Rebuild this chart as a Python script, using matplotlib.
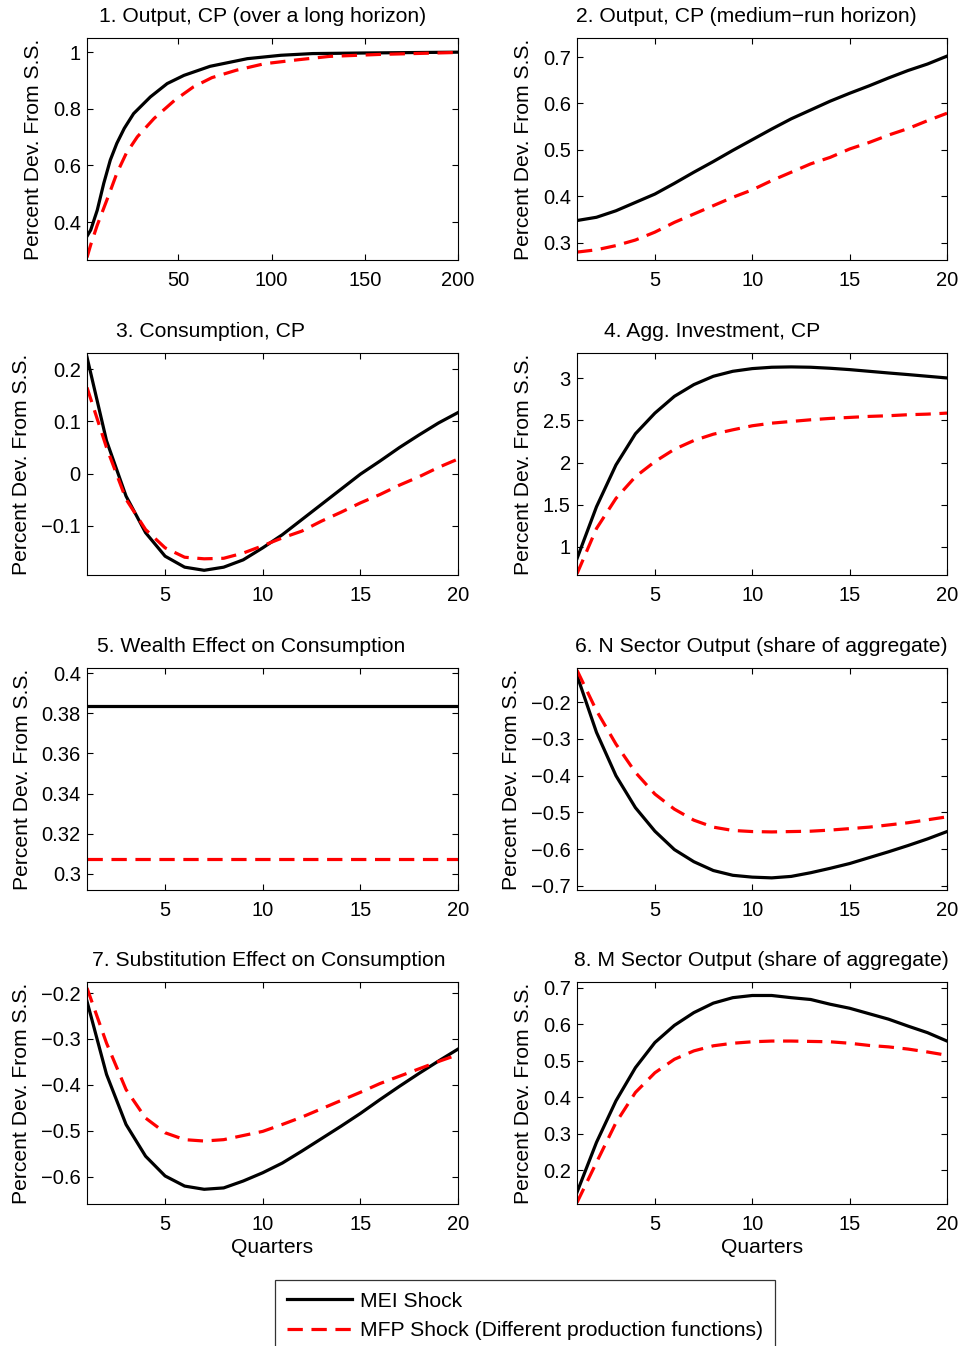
import matplotlib
matplotlib.use("Agg")
import matplotlib.pyplot as plt
from matplotlib.ticker import FuncFormatter

plt.rcParams['font.family'] = ['Liberation Sans', 'DejaVu Sans']
plt.rcParams['axes.unicode_minus'] = True

# ---------------- data ----------------
q = list(range(1, 21))

# Panel 1 (long horizon)
p1_x_mei = [1, 3, 6.5, 10, 13.5, 17, 21, 26, 35, 44, 53, 67, 87, 105, 122, 149, 200]
p1_mei = [0.350, 0.372, 0.442, 0.537, 0.619, 0.678, 0.731, 0.783, 0.842, 0.889,
          0.918, 0.950, 0.977, 0.989, 0.995, 0.997, 1.0]
p1_x_mfp = [1, 3, 6.5, 13, 17, 22, 28, 37, 48, 58, 68, 81, 96, 114, 131, 158, 200]
p1_mfp = [0.275, 0.320, 0.389, 0.501, 0.572, 0.642, 0.701, 0.766, 0.830, 0.877,
          0.910, 0.936, 0.959, 0.973, 0.985, 0.992, 0.999]

# Panel 2 (medium-run)
p2_mei = [0.348, 0.355, 0.369, 0.387, 0.405, 0.428, 0.452, 0.475, 0.499, 0.522,
          0.545, 0.567, 0.586, 0.605, 0.622, 0.638, 0.655, 0.671, 0.685, 0.702]
p2_mfp = [0.280, 0.285, 0.294, 0.306, 0.323, 0.344, 0.362, 0.380, 0.398, 0.414,
          0.434, 0.452, 0.470, 0.484, 0.502, 0.516, 0.532, 0.546, 0.563, 0.579]

# Panel 3 consumption
p3_mei = [0.223, 0.063, -0.043, -0.113, -0.158, -0.179, -0.185, -0.179, -0.165, -0.142,
          -0.117, -0.088, -0.059, -0.030, -0.001, 0.024, 0.050, 0.074, 0.097, 0.117]
p3_mfp = [0.165, 0.050, -0.049, -0.107, -0.142, -0.160, -0.163, -0.162, -0.152, -0.138,
          -0.123, -0.110, -0.091, -0.074, -0.056, -0.040, -0.022, -0.006, 0.012, 0.028]

# Panel 4 investment
p4_mei = [0.861, 1.476, 1.972, 2.342, 2.587, 2.786, 2.925, 3.024, 3.083, 3.115,
          3.131, 3.135, 3.131, 3.119, 3.103, 3.083, 3.063, 3.044, 3.024, 3.004]
p4_mfp = [0.682, 1.218, 1.575, 1.833, 2.012, 2.158, 2.262, 2.337, 2.389, 2.437,
          2.468, 2.488, 2.508, 2.524, 2.536, 2.548, 2.556, 2.568, 2.575, 2.587]

# Panel 5 wealth effect
p5_mei = [0.3835] * 20
p5_mfp = [0.3075] * 20

# Panel 6 N sector output
p6_mei = [-0.127, -0.282, -0.400, -0.487, -0.551, -0.601, -0.634, -0.658, -0.671, -0.676,
          -0.678, -0.674, -0.664, -0.652, -0.639, -0.623, -0.607, -0.590, -0.572, -0.552]
p6_mfp = [-0.113, -0.223, -0.314, -0.391, -0.450, -0.491, -0.521, -0.540, -0.549, -0.552,
          -0.553, -0.552, -0.551, -0.548, -0.544, -0.540, -0.534, -0.528, -0.520, -0.512]

# Panel 7 substitution effect
p7_mei = [-0.218, -0.377, -0.486, -0.555, -0.598, -0.620, -0.627, -0.624, -0.609, -0.591,
          -0.570, -0.544, -0.517, -0.490, -0.462, -0.432, -0.403, -0.375, -0.348, -0.322]
p7_mfp = [-0.189, -0.309, -0.410, -0.472, -0.504, -0.519, -0.522, -0.519, -0.510, -0.501,
          -0.486, -0.470, -0.452, -0.434, -0.416, -0.397, -0.381, -0.365, -0.349, -0.334]

# Panel 8 M sector output
p8_mei = [0.139, 0.276, 0.390, 0.481, 0.550, 0.597, 0.632, 0.658, 0.673, 0.679,
          0.679, 0.673, 0.668, 0.655, 0.644, 0.629, 0.614, 0.595, 0.577, 0.554]
p8_mfp = [0.111, 0.221, 0.330, 0.413, 0.467, 0.504, 0.527, 0.541, 0.548, 0.552,
          0.554, 0.554, 0.553, 0.552, 0.548, 0.542, 0.538, 0.532, 0.524, 0.515]

titles = ["1. Output, CP (over a long horizon)",
          "2. Output, CP (medium\u2212run horizon)",
          "3. Consumption, CP",
          "4. Agg. Investment, CP",
          "5. Wealth Effect on Consumption",
          "6. N Sector Output (share of aggregate)",
          "7. Substitution Effect on Consumption",
          "8. M Sector Output (share of aggregate)"]

legend_labels = ["MEI Shock", "MFP Shock (Different production functions)"]

ylims = [(0.266, 1.05), (0.263, 0.741), (-0.194, 0.231), (0.667, 3.30),
         (0.292, 0.4025), (-0.711, -0.107), (-0.659, -0.176), (0.107, 0.716)]
yticks = [[0.4, 0.6, 0.8, 1.0], [0.3, 0.4, 0.5, 0.6, 0.7], [-0.1, 0, 0.1, 0.2],
          [1, 1.5, 2, 2.5, 3], [0.3, 0.32, 0.34, 0.36, 0.38, 0.4],
          [-0.7, -0.6, -0.5, -0.4, -0.3, -0.2], [-0.6, -0.5, -0.4, -0.3, -0.2],
          [0.2, 0.3, 0.4, 0.5, 0.6, 0.7]]

series = [((p1_x_mei, p1_mei), (p1_x_mfp, p1_mfp)),
          ((q, p2_mei), (q, p2_mfp)),
          ((q, p3_mei), (q, p3_mfp)),
          ((q, p4_mei), (q, p4_mfp)),
          ((q, p5_mei), (q, p5_mfp)),
          ((q, p6_mei), (q, p6_mfp)),
          ((q, p7_mei), (q, p7_mfp)),
          ((q, p8_mei), (q, p8_mfp))]

# ---------------- layout ----------------
W, H = 963, 1346
fig = plt.figure(figsize=(W / 100, H / 100), dpi=100)
lefts = [87, 577]
widths = [371, 370]
tops = [38, 353, 668, 982]
ah = 222
title_x = [0.472, 0.457, 0.332, 0.365, 0.443, 0.497, 0.489, 0.499]

FS = 15.2
TFS = 14.5


def fmt(v, pos):
    return ("%g" % v).replace("-", "\u2212")


lines = []
for i in range(8):
    r, c = divmod(i, 2)
    ax = fig.add_axes([lefts[c] / W, 1 - (tops[r] + ah) / H, widths[c] / W, ah / H])
    (xm, ym), (xf, yf) = series[i]
    l1, = ax.plot(xm, ym, color='black', lw=2.3)
    l2, = ax.plot(xf, yf, color='#ff0000', lw=2.3, dashes=(4.8, 2.7))
    lines = [l1, l2]
    if i == 0:
        ax.set_xlim(1, 200)
        ax.set_xticks([50, 100, 150, 200])
    else:
        ax.set_xlim(1, 20)
        ax.set_xticks([5, 10, 15, 20])
    ax.set_ylim(*ylims[i])
    ax.set_yticks(yticks[i])
    ax.yaxis.set_major_formatter(FuncFormatter(fmt))
    ax.xaxis.set_major_formatter(FuncFormatter(fmt))
    ax.tick_params(direction='in', top=True, right=True, length=4, width=0.8,
                   labelsize=TFS, colors='black')
    ax.tick_params(axis='x', pad=8)
    ax.tick_params(axis='y', pad=4.5)
    for sp in ax.spines.values():
        sp.set_linewidth(0.8)
    ax.set_title(titles[i], fontsize=FS, pad=11.5, x=title_x[i], ha='center')
    ax.set_ylabel("Percent Dev. From S.S.", fontsize=FS, labelpad=7)
    if r == 3:
        ax.set_xlabel("Quarters", fontsize=FS, labelpad=3)

leg = fig.legend(lines, legend_labels,
                 loc='upper left', bbox_to_anchor=(275 / W, 1 - 1280 / H),
                 fontsize=FS, frameon=True, fancybox=False, edgecolor='black',
                 handlelength=3.1, handletextpad=0.4, borderpad=0.55,
                 labelspacing=0.5, borderaxespad=0)
leg.get_frame().set_linewidth(0.9)

fig.savefig("out.png", dpi=100)
